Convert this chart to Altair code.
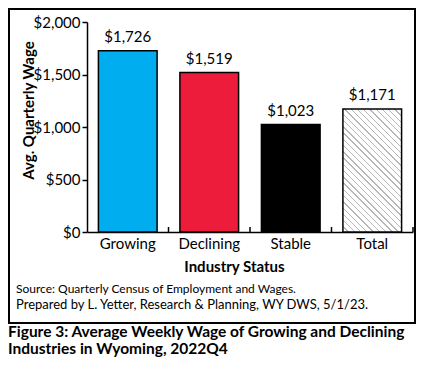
import altair as alt
import pandas as pd

categories = ["Growing", "Declining", "Stable", "Total"]
wages = [1726, 1519, 1023, 1171]
y_ticks = [0, 500, 1000, 1500, 2000]
bar_colors = ["#00AEEF", "#ED1C3A", "#000000"]
source_line = ["Source: Quarterly Census of Employment and Wages."]
prepared_line = ["Prepared by L. Yetter, Research & Planning, WY DWS, 5/1/23."]
caption_lines = ["Figure 3: Average Weekly Wage of Growing and Declining",
                 "Industries in Wyoming, 2022Q4"]

FONT = "Lato"
W, H = 326, 210

df = pd.DataFrame({"status": categories, "wage": wages})

# hatch pattern via many-stop linear gradient (stripes at 45 deg, "\\" direction)
n_str = 29
stops = []
for i in range(n_str):
    a = i / n_str
    b = (i + 0.78) / n_str
    c = (i + 1) / n_str
    stops += [{"offset": a, "color": "#ffffff"}, {"offset": b, "color": "#ffffff"},
              {"offset": b, "color": "#b8b8b8"}, {"offset": c, "color": "#b8b8b8"}]
hatch = {"gradient": "linear", "x1": 0, "y1": 1, "x2": 0.574, "y2": -0.203, "stops": stops}

xscale = alt.Scale(domain=categories, paddingInner=0, paddingOuter=0)
yscale = alt.Scale(domain=[0, 2000], nice=False)

x_enc = alt.X("status:N", sort=categories, scale=xscale, title="Industry Status",
              axis=alt.Axis(ticks=False, labelAngle=0, labelFontSize=15, labelPadding=4,
                            labelColor="black", domainColor="black", domainWidth=1.5,
                            titleFontSize=15, titleFontWeight="bold", titleColor="black",
                            titleX=147, titleY=34, titleBaseline="middle", titleAlign="center"))
y_enc = alt.Y("wage:Q", scale=yscale, title="Avg. Quarterly Wage",
              axis=alt.Axis(values=y_ticks, format="$,.0f", grid=False, tickSize=5,
                            tickWidth=1.5, tickColor="black", domainColor="black",
                            domainWidth=1.5, labelFontSize=15, labelPadding=2,
                            labelColor="black", titleFontSize=15, titleFontWeight="bold",
                            titleColor="black", titleX=-59, titleY=88, titleAngle=-90,
                            titleBaseline="middle", titleAlign="center"))

bars = alt.Chart(df).transform_filter(alt.datum.status != "Total").mark_bar(
    width=alt.RelativeBandSize(0.72), stroke="black", strokeWidth=1.5
).encode(
    x=x_enc, y=y_enc,
    color=alt.Color("status:N", scale=alt.Scale(domain=categories[:3], range=bar_colors), legend=None),
)

total_bar = alt.Chart(df).transform_filter(alt.datum.status == "Total").mark_bar(
    width=alt.RelativeBandSize(0.72), stroke="black", strokeWidth=1.5, fill=hatch
).encode(x=alt.X("status:N", sort=categories, scale=xscale), y=alt.Y("wage:Q", scale=yscale))

labels = alt.Chart(df).mark_text(fontSize=15, baseline="alphabetic", dy=-9, color="black").encode(
    x=alt.X("status:N", sort=categories, scale=xscale),
    y=alt.Y("wage:Q", scale=yscale),
    text=alt.Text("wage:Q", format="$,.0f"),
)

ticks = alt.Chart(df).mark_rule(color="black", strokeWidth=1.5).encode(
    x=alt.X("status:N", sort=categories, scale=xscale, bandPosition=1),
    y=alt.value(H), y2=alt.value(H - 5),
)

frame = alt.Chart(pd.DataFrame({"k": [0]})).mark_rect(
    fillOpacity=0, stroke="black", strokeWidth=2
).encode(x=alt.value(-78), x2=alt.value(328), y=alt.value(-13), y2=alt.value(301))

def text_line(lines, x, y, size, weight="normal"):
    return alt.Chart(pd.DataFrame({"line": lines})).mark_text(
        align="left", baseline="middle", fontSize=size, fontWeight=weight, color="black"
    ).encode(text="line:N", x=alt.value(x), y=alt.value(y))

src = text_line(source_line, -71, 267, 12)
prep = text_line(prepared_line, -71, 283, 13)
cap1 = text_line(caption_lines[:1], -79, 310, 15.5, "bold")
cap2 = text_line(caption_lines[1:], -79, 327, 15.5, "bold")

chart = alt.layer(frame, bars, total_bar, labels, ticks, src, prep, cap1, cap2).properties(
    width=W, height=H, padding=0
).configure(font=FONT).configure_view(strokeWidth=0)

chart.save("out.html", embed_options={"renderer": "svg", "actions": False})
